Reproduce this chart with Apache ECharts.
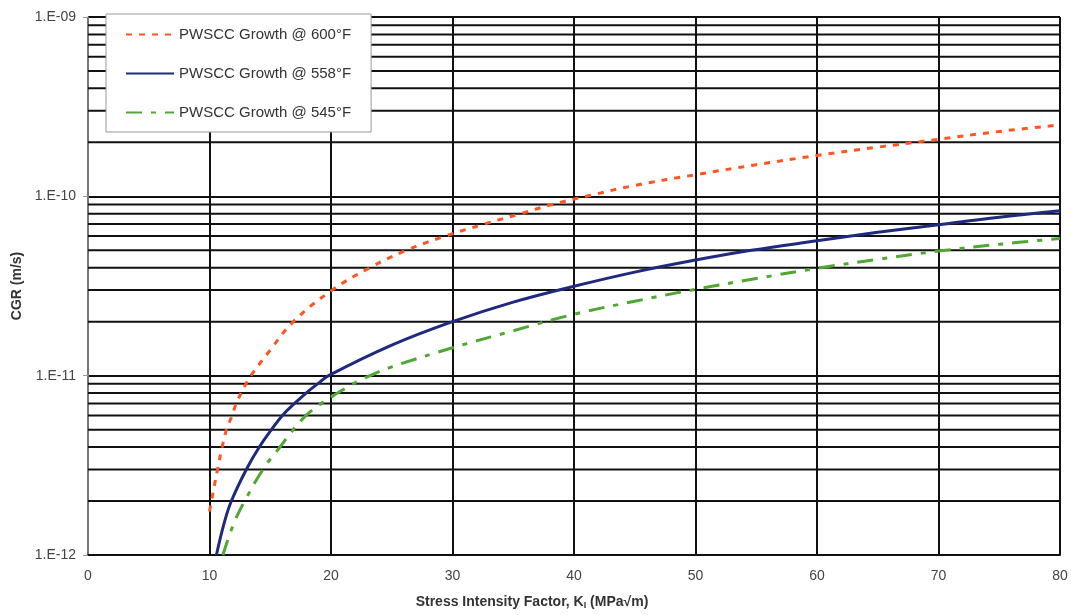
<!DOCTYPE html>
<html>
<head>
<meta charset="utf-8">
<script src="https://cdn.jsdelivr.net/npm/echarts@6/dist/echarts.min.js"></script>
<style>html,body{margin:0;padding:0;background:#fff}#c{width:1071px;height:615px}</style>
</head>
<body>
<div id="c"></div>
<script>
// Series names
var seriesNames = ['PWSCC Growth @ 600°F', 'PWSCC Growth @ 558°F', 'PWSCC Growth @ 545°F'];

// PWSCC Growth @ 600°F
var k600   = [10.0, 10.16, 10.66, 11.04, 11.4, 11.86, 12.2, 12.6, 13.0, 13.4, 15.0, 16.9, 20.1, 23.2, 26.2, 29.4, 32.6, 35.6, 38.2, 41, 45, 50, 55, 60, 65, 70, 75, 80];
var cgr600 = [1.75e-12, 2e-12, 3e-12, 4e-12, 5e-12, 6e-12, 7e-12, 8e-12, 9e-12, 1e-11, 1.39e-11, 2e-11, 3e-11, 4e-11, 5e-11, 6e-11, 7e-11, 8e-11, 9e-11, 1e-10, 1.15e-10, 1.32e-10, 1.5e-10, 1.69e-10, 1.88e-10, 2.08e-10, 2.3e-10, 2.5e-10];

// PWSCC Growth @ 558°F
var k558   = [10.57, 11.2, 11.8, 13.03, 14.1, 15.1, 16.0, 17.0, 17.95, 18.9, 19.8, 25, 30, 35, 40, 45, 50, 54.6, 60, 65, 70, 75, 80];
var cgr558 = [1e-12, 1.5e-12, 2e-12, 3e-12, 4e-12, 5e-12, 6e-12, 7e-12, 8e-12, 9e-12, 1e-11, 1.48e-11, 2e-11, 2.57e-11, 3.15e-11, 3.78e-11, 4.41e-11, 5e-11, 5.65e-11, 6.3e-11, 6.95e-11, 7.65e-11, 8.3e-11];

// PWSCC Growth @ 545°F
var k545   = [11.1, 12.0, 12.9, 14.4, 15.8, 16.9, 17.95, 19.2, 20.55, 21.8, 23.2, 25, 30, 35, 40, 45, 50, 55, 60, 65, 70, 75, 80];
var cgr545 = [1e-12, 1.5e-12, 2e-12, 3e-12, 4e-12, 5e-12, 6e-12, 7e-12, 8e-12, 9e-12, 1e-11, 1.12e-11, 1.43e-11, 1.78e-11, 2.2e-11, 2.6e-11, 3.03e-11, 3.48e-11, 3.97e-11, 4.45e-11, 4.95e-11, 5.4e-11, 5.82e-11];

// Axis settings
var xMin = 0, xMax = 80, xInterval = 10;
var yMin = 1e-12, yMax = 1e-9;
// Minor horizontal gridlines (2..9 within each decade)
var minorGrid = [2e-12,3e-12,4e-12,5e-12,6e-12,7e-12,8e-12,9e-12,
                 2e-11,3e-11,4e-11,5e-11,6e-11,7e-11,8e-11,9e-11,
                 2e-10,3e-10,4e-10,5e-10,6e-10,7e-10,8e-10,9e-10];

function pairs(xs, ys){ return xs.map(function(x,i){ return [x, ys[i]]; }); }
function fmtY(v){
  var e = Math.round(Math.log10(v));
  var a = Math.abs(e);
  return '1.E' + (e < 0 ? '-' : '+') + (a < 10 ? '0' + a : a);
}

var FONT = '"Liberation Sans", Arial, sans-serif';

var gridSeries = minorGrid.map(function(v, i){
  return {
    name: 'minor' + i, type: 'line', data: [[xMin, v], [xMax, v]],
    silent: true, z: 1, symbol: 'none', showSymbol: false,
    lineStyle: {color: '#111', width: 2, type: 'solid'},
    emphasis: {disabled: true}, tooltip: {show: false}
  };
});

var curveSeries = [
  {
    name: seriesNames[0], type: 'line', data: pairs(k600, cgr600),
    smooth: 0.4, showSymbol: false, symbol: 'none', z: 5,
    lineStyle: {color: '#FF5522', width: 3, type: [6, 7]},
    itemStyle: {color: '#FF5522'}
  },
  {
    name: seriesNames[1], type: 'line', data: pairs(k558, cgr558),
    smooth: 0.4, showSymbol: false, symbol: 'none', z: 5,
    lineStyle: {color: '#1F2A7E', width: 3, type: 'solid'},
    itemStyle: {color: '#1F2A7E'}
  },
  {
    name: seriesNames[2], type: 'line', data: pairs(k545, cgr545),
    smooth: 0.4, showSymbol: false, symbol: 'none', z: 5,
    lineStyle: {color: '#4FA832', width: 3, type: [16, 9, 5, 9]},
    itemStyle: {color: '#4FA832'}
  }
];

var chart = echarts.init(document.getElementById('c'), null, {renderer: 'canvas'});
chart.setOption({
  animation: false,
  backgroundColor: '#fff',
  textStyle: {fontFamily: FONT},
  grid: {left: 88, right: 11, top: 17, bottom: 57, containLabel: false},
  legend: {
    data: seriesNames.map(function(n){ return {name: n, itemStyle: {opacity: 0}}; }),
    orient: 'vertical',
    left: 106, top: 14,
    padding: [13, 20, 12, 19],
    itemGap: 24,
    itemWidth: 48, itemHeight: 14,
    backgroundColor: '#fff',
    borderColor: '#999', borderWidth: 1,
    textStyle: {fontFamily: FONT, fontSize: 15, color: '#333'},
    z: 10
  },
  xAxis: {
    type: 'value', min: xMin, max: xMax, interval: xInterval,
    name: 'Stress Intensity Factor, K{sub|I} (MPa√m)',
    nameLocation: 'middle', nameGap: 40,
    nameTextStyle: {
      fontFamily: FONT, fontSize: 14, fontWeight: 'bold', color: '#333',
      padding: [0, 84, 0, 0],
      rich: {sub: {fontSize: 9, fontWeight: 'bold', color: '#333', verticalAlign: 'bottom', padding: [6, 0, 0, 0]}}
    },
    axisLine: {show: true, lineStyle: {color: '#111', width: 2}},
    axisTick: {show: false},
    axisLabel: {fontFamily: FONT, fontSize: 14, color: '#444', margin: 14},
    splitLine: {show: true, lineStyle: {color: '#111', width: 2}}
  },
  yAxis: {
    type: 'log', logBase: 10, min: yMin, max: yMax,
    name: 'CGR (m/s)',
    nameLocation: 'middle', nameGap: 62, nameRotate: 90,
    nameTextStyle: {fontFamily: FONT, fontSize: 14, fontWeight: 'bold', color: '#333'},
    axisLine: {show: true, onZero: false, lineStyle: {color: '#999', width: 1.5}},
    axisTick: {show: true, inside: false, length: 5, lineStyle: {color: '#999'}},
    axisLabel: {fontFamily: FONT, fontSize: 14, color: '#444', margin: 12, formatter: fmtY},
    splitLine: {show: true, lineStyle: {color: '#111', width: 2}},
    minorTick: {show: false},
    minorSplitLine: {show: false}
  },
  series: gridSeries.concat(curveSeries)
});
</script>
</body>
</html>
